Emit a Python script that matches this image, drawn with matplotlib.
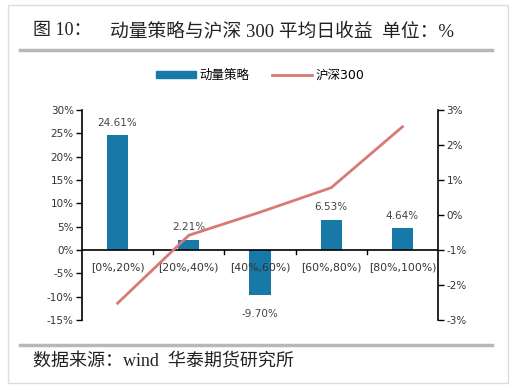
import numpy as np
import matplotlib
matplotlib.use("Agg")
import matplotlib.pyplot as plt
from matplotlib.patches import Patch, Rectangle
from matplotlib.lines import Line2D
from matplotlib.ticker import FuncFormatter

plt.rcParams['font.family'] = ['DejaVu Sans', 'Noto Sans CJK SC']

# data
categories = ["[0%,20%)", "[20%,40%)", "[40%,60%)", "[60%,80%)", "[80%,100%)"]
strategy = [24.61, 2.21, -9.70, 6.53, 4.64]      # 动量策略, left axis (%)
hs300 = [-2.52, -0.58, 0.08, 0.78, 2.52]         # 沪深300, right axis (%)

bar_color = "#1679a8"
line_color = "#d77a75"

W, H = 524, 385
fig = plt.figure(figsize=(W / 100, H / 100), dpi=100)


def fx(px):
    return px / W


def fy(py):
    return 1 - py / H


# axes in pixel coordinates of the reference
ax = fig.add_axes([fx(82), fy(320), fx(438) - fx(82), fy(110) - fy(320)])
x = np.arange(len(categories))
ax.bar(x, strategy, width=0.3, color=bar_color, zorder=2)
ax.set_xlim(-0.5, len(categories) - 0.5)
ax.set_ylim(-15, 30)
ax.set_yticks(np.arange(-15, 31, 5))
ax.yaxis.set_major_formatter(FuncFormatter(lambda v, p: f"{v:.0f}%"))
ax.tick_params(axis="y", labelsize=7.5, length=4, width=1, colors="black",
               labelcolor="#333333", pad=2)
ax.spines["top"].set_visible(False)
ax.spines["bottom"].set_visible(False)
ax.spines["right"].set_visible(False)
ax.spines["left"].set_linewidth(1.2)

# zero line with ticks at category boundaries
ax.axhline(0, color="black", lw=1.2, zorder=3)
ax.set_xticks([])
for b in np.arange(0.5, len(categories) - 0.5, 1):
    ax.plot([b, b], [0, -0.9], color="black", lw=1, zorder=3, clip_on=False)
for i, c in enumerate(categories):
    ax.text(i, -2.6, c, ha="center", va="top", fontsize=7.8, color="#333333")

# bar value labels
for i, v in enumerate(strategy):
    if v >= 0:
        ax.text(i, v + 1.6, f"{v:.2f}%", ha="center", va="bottom",
                fontsize=7.5, color="#444444")
    else:
        ax.text(i, v - 3.0, f"{v:.2f}%", ha="center", va="top",
                fontsize=7.5, color="#444444")

ax2 = ax.twinx()
ax2.plot(x, hs300, color=line_color, lw=2, zorder=4)
ax2.set_ylim(-3, 3)
ax2.set_yticks(np.arange(-3, 4, 1))
ax2.yaxis.set_major_formatter(FuncFormatter(lambda v, p: f"{v:.0f}%"))
ax2.tick_params(axis="y", labelsize=7.5, length=4, width=1, colors="black",
                labelcolor="#333333", pad=2)
for s in ["top", "bottom", "left"]:
    ax2.spines[s].set_visible(False)
ax2.spines["right"].set_linewidth(1.2)

handles = [Patch(color=bar_color, label="动量策略"),
           Line2D([0], [0], color=line_color, lw=2, label="沪深300")]
fig.legend(handles=handles, loc="center", bbox_to_anchor=(fx(260), fy(75)),
           ncol=2, frameon=False, fontsize=9, handlelength=3.2,
           handleheight=0.5, columnspacing=1.8, handletextpad=0.3)

# title, rules and source note
serif = ['Liberation Serif', 'Noto Sans CJK SC']
fig.text(fx(33), fy(31), "图 10：", family=serif, fontsize=13,
         ha="left", va="center", color="#222222")
fig.text(fx(110), fy(31), "动量策略与沪深 300 平均日收益  单位：%", family=serif,
         fontsize=13.5, ha="left", va="center", color="#222222")
fig.add_artist(Line2D([fx(20), fx(492)], [fy(50), fy(50)], color="#b8b8b8", lw=2.5))
fig.add_artist(Line2D([fx(20), fx(492)], [fy(345), fy(345)], color="#b8b8b8", lw=2.5))
fig.text(fx(33), fy(362), "数据来源：wind  华泰期货研究所", family=serif,
         fontsize=13, ha="left", va="center", color="#222222")

fig.add_artist(Rectangle((fx(8), fy(383)), fx(508) - fx(8), fy(5) - fy(383),
                         fill=False, edgecolor="#dddddd", lw=1))

fig.savefig("out.png", dpi=100)
